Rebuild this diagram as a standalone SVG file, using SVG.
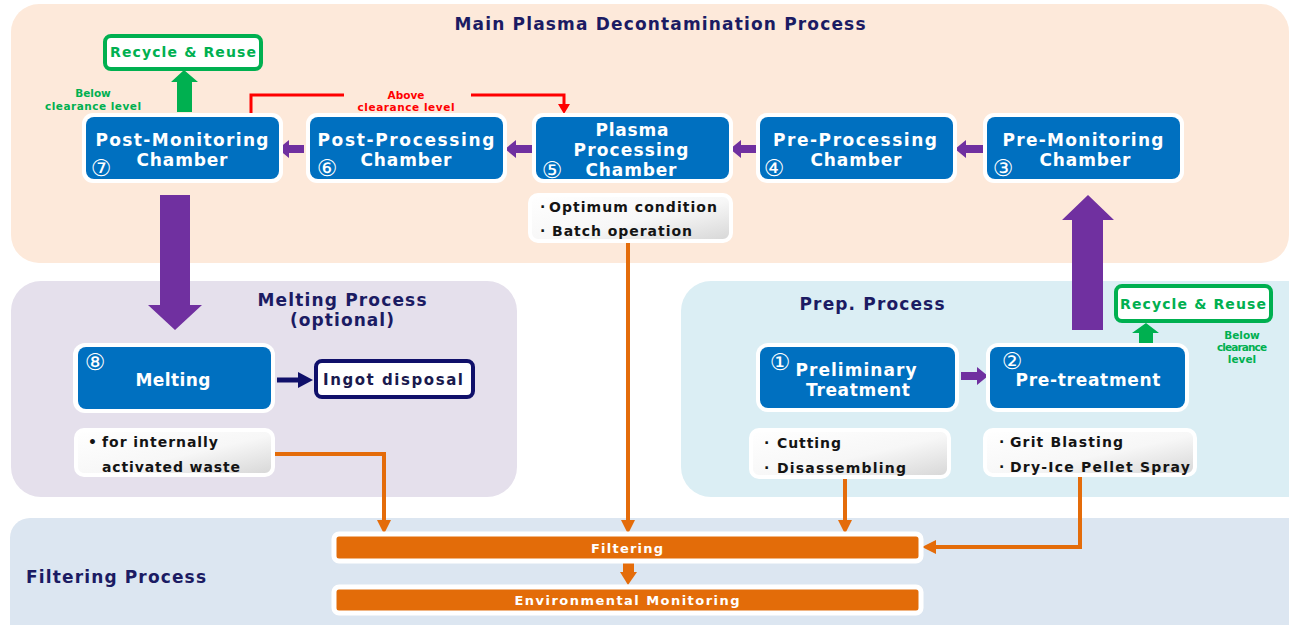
<svg xmlns="http://www.w3.org/2000/svg" width="1289" height="625" viewBox="0 0 1289 625">
<defs>
<linearGradient id="noteG" x1="0" y1="0" x2="1" y2="1">
<stop offset="0" stop-color="#ffffff"/>
<stop offset="0.55" stop-color="#f7f7f7"/>
<stop offset="1" stop-color="#d6d6d6"/>
</linearGradient>
</defs>
<style>
text{font-family:"DejaVu Sans","Liberation Sans",Arial,sans-serif;font-weight:bold}
.ch{fill:#0070c0}
.chb{fill:#ffffff}
.ct{fill:#ffffff;font-size:17px;text-anchor:middle}
.num{fill:#ffffff;font-family:"DejaVu Sans",sans-serif;font-weight:normal;font-size:23px;text-anchor:middle}
.ttl{fill:#1b1b63;font-size:17px}
.note{fill:#141414;font-size:14px}
.noteb{fill:url(#noteG);stroke:#ffffff;stroke-width:4}
.grn{fill:#00b050;font-size:10.5px;text-anchor:middle}
.red{fill:#ff0000;font-size:10.5px;text-anchor:middle}
.pur{fill:#7030a0}
.org{stroke:#e46c0a;stroke-width:4;fill:none}
.orgf{fill:#e46c0a}
.bar{fill:#e36c09;stroke:#ffffff;stroke-width:5}
.bt{fill:#ffffff;font-size:13px;text-anchor:middle}
.rr{fill:#ffffff;stroke:#00b050;stroke-width:4}
.rrt{fill:#00b050;font-size:14px;text-anchor:middle}
</style>

<g id="panels">
<rect x="11" y="4" width="1278" height="259" rx="28" fill="#fde9da"/>
<rect x="11" y="281" width="506" height="216" rx="30" fill="#e5e0ec"/>
<rect x="681" y="281" width="640" height="216" rx="30" fill="#dbeef4"/>
<rect x="10" y="518" width="1310" height="140" rx="20" fill="#dce6f1"/>
</g>

<g id="labels">
<text class="ttl" x="660" y="30" text-anchor="middle" textLength="411" lengthAdjust="spacing">Main Plasma Decontamination Process</text>
<text class="ttl" x="342" y="306" text-anchor="middle" textLength="169" lengthAdjust="spacing">Melting Process</text>
<text class="ttl" x="342" y="326" text-anchor="middle" textLength="104" lengthAdjust="spacing">(optional)</text>
<text class="ttl" x="872" y="310" text-anchor="middle" textLength="145" lengthAdjust="spacing">Prep. Process</text>
<text class="ttl" x="26" y="583" textLength="180" lengthAdjust="spacing">Filtering Process</text>
<text class="grn" x="93" y="97">Below</text>
<text class="grn" x="93" y="110" textLength="96" lengthAdjust="spacing">clearance level</text>
<text class="red" x="406" y="99">Above</text>
<text class="red" x="406" y="111" textLength="97" lengthAdjust="spacing">clearance level</text>
<text class="grn" x="1242" y="339">Below</text>
<text class="grn" x="1242" y="351" textLength="50" lengthAdjust="spacing">clearance</text>
<text class="grn" x="1242" y="363">level</text>
</g>

<g id="connectors">
<polygon class="pur" points="278,149 289,140 289,145 304,145 304,153 289,153 289,158"/>
<polygon class="pur" points="505,149 516,140 516,145 532,145 532,153 516,153 516,158"/>
<polygon class="pur" points="730,149 741,140 741,145 757,145 757,153 741,153 741,158"/>
<polygon class="pur" points="955,149 966,140 966,145 983,145 983,153 966,153 966,158"/>
<polygon class="pur" points="988,376 977,367 977,372 961,372 961,380 977,380 977,385"/>
<polygon class="pur" points="160,195 190,195 190,305 202,305 175,330 148,305 160,305"/>
<polygon class="pur" points="1072,330 1072,220 1062,220 1088,195 1114,220 1103,220 1103,330"/>
<polygon fill="#00b050" points="177,112 177,82 171,82 184,70 198,82 192,82 192,112"/>
<polygon fill="#00b050" points="1139,343 1139,333 1132,333 1146,323 1159,333 1153,333 1153,343"/>
<polyline points="251,117 251,95 344,95" fill="none" stroke="#ff0000" stroke-width="3"/>
<polyline points="471,95 564,95 564,106" fill="none" stroke="#ff0000" stroke-width="3"/>
<polygon points="558,104 570,104 564,114" fill="#ff0000"/>
<line x1="277" y1="380" x2="300" y2="380" stroke="#10106a" stroke-width="5"/>
<polygon points="298,372 313,380 298,388" fill="#10106a"/>
<polyline class="org" points="274,454 384,454 384,522"/>
<polygon class="orgf" points="377,520 391,520 384,534"/>
<polyline class="org" points="628,243 628,522"/>
<polygon class="orgf" points="621,520 635,520 628,534"/>
<polyline class="org" points="845,479 845,522"/>
<polygon class="orgf" points="838,520 852,520 845,534"/>
<polyline class="org" points="1080,476 1080,547 934,547"/>
<polygon class="orgf" points="936,540 936,554 922,547"/>
<rect class="orgf" x="623" y="561" width="11" height="13"/>
<polygon class="orgf" points="620,572 637,572 628,585"/>
</g>

<g id="recycle-top">
<rect class="rr" x="105" y="36" width="156" height="33" rx="6"/>
<text class="rrt" x="183" y="57" textLength="146" lengthAdjust="spacing">Recycle &amp; Reuse</text>
</g>
<g id="recycle-right">
<rect class="rr" x="1116" y="286" width="155" height="35" rx="6"/>
<text class="rrt" x="1193" y="309" textLength="146" lengthAdjust="spacing">Recycle &amp; Reuse</text>
</g>

<g id="n7">
<rect class="chb" x="82" y="113" width="201" height="70" rx="11"/>
<rect class="ch" x="86" y="117" width="193" height="62" rx="8"/>
<text class="ct" x="182" y="146" textLength="173" lengthAdjust="spacing">Post-Monitoring</text>
<text class="ct" x="182" y="166" textLength="91" lengthAdjust="spacing">Chamber</text>
<text class="num" x="101" y="176">⑦</text>
</g>
<g id="n6">
<rect class="chb" x="306" y="113" width="201" height="70" rx="11"/>
<rect class="ch" x="310" y="117" width="193" height="62" rx="8"/>
<text class="ct" x="406" y="146" textLength="177" lengthAdjust="spacing">Post-Processing</text>
<text class="ct" x="406" y="166" textLength="91" lengthAdjust="spacing">Chamber</text>
<text class="num" x="327" y="176">⑥</text>
</g>
<g id="n5">
<rect class="chb" x="532" y="113" width="201" height="70" rx="11"/>
<rect class="ch" x="536" y="117" width="193" height="62" rx="8"/>
<text class="ct" x="632" y="136" textLength="73" lengthAdjust="spacing">Plasma</text>
<text class="ct" x="631" y="156" textLength="115" lengthAdjust="spacing">Processing</text>
<text class="ct" x="631" y="176" textLength="91" lengthAdjust="spacing">Chamber</text>
<text class="num" x="552" y="178">⑤</text>
</g>
<g id="n4">
<rect class="chb" x="756" y="113" width="201" height="70" rx="11"/>
<rect class="ch" x="760" y="117" width="193" height="62" rx="8"/>
<text class="ct" x="855" y="146" textLength="164" lengthAdjust="spacing">Pre-Processing</text>
<text class="ct" x="856" y="166" textLength="91" lengthAdjust="spacing">Chamber</text>
<text class="num" x="774" y="176">④</text>
</g>
<g id="n3">
<rect class="chb" x="983" y="113" width="201" height="70" rx="11"/>
<rect class="ch" x="987" y="117" width="193" height="62" rx="8"/>
<text class="ct" x="1083" y="146" textLength="161" lengthAdjust="spacing">Pre-Monitoring</text>
<text class="ct" x="1085" y="166" textLength="91" lengthAdjust="spacing">Chamber</text>
<text class="num" x="1003" y="176">③</text>
</g>

<g id="note5">
<rect class="noteb" x="530" y="195" width="201" height="46" rx="8"/>
<text class="note" x="540" y="212">·</text>
<text class="note" x="549" y="212" textLength="168" lengthAdjust="spacing">Optimum condition</text>
<text class="note" x="540" y="236">·</text>
<text class="note" x="552" y="236" textLength="140" lengthAdjust="spacing">Batch operation</text>
</g>

<g id="n8">
<rect class="chb" x="73" y="343" width="202" height="70" rx="12"/>
<rect class="ch" x="78" y="347" width="193" height="62" rx="8"/>
<text class="ct" x="173" y="386" textLength="75" lengthAdjust="spacing">Melting</text>
<text class="num" x="95" y="370">⑧</text>
</g>
<g id="ingot">
<rect x="316" y="361" width="157" height="36" rx="6" fill="#ffffff" stroke="#10106a" stroke-width="4"/>
<text x="393" y="385" fill="#1a1a4e" font-size="15" text-anchor="middle" textLength="140" lengthAdjust="spacing">Ingot disposal</text>
</g>
<g id="note8">
<rect class="noteb" x="76" y="430" width="197" height="45" rx="8"/>
<text class="note" x="88" y="447">•</text>
<text class="note" x="102" y="447" textLength="116" lengthAdjust="spacing">for internally</text>
<text class="note" x="102" y="472" textLength="138" lengthAdjust="spacing">activated waste</text>
</g>

<g id="n1">
<rect class="chb" x="756" y="343" width="203" height="69" rx="12"/>
<rect class="ch" x="760" y="347" width="195" height="61" rx="8"/>
<text class="ct" x="856" y="376" textLength="121" lengthAdjust="spacing">Preliminary</text>
<text class="ct" x="858" y="396" textLength="104" lengthAdjust="spacing">Treatment</text>
<text class="num" x="780" y="370">①</text>
</g>
<g id="n2">
<rect class="chb" x="986" y="343" width="203" height="69" rx="12"/>
<rect class="ch" x="990" y="347" width="195" height="61" rx="8"/>
<text class="ct" x="1088" y="386" textLength="145" lengthAdjust="spacing">Pre-treatment</text>
<text class="num" x="1012" y="369">②</text>
</g>
<g id="note1">
<rect class="noteb" x="751" y="430" width="198" height="47" rx="8"/>
<text class="note" x="764" y="448">·</text>
<text class="note" x="777" y="448" textLength="64" lengthAdjust="spacing">Cutting</text>
<text class="note" x="764" y="473">·</text>
<text class="note" x="777" y="473" textLength="129" lengthAdjust="spacing">Disassembling</text>
</g>
<g id="note2">
<rect class="noteb" x="985" y="430" width="210" height="45" rx="8"/>
<text class="note" x="999" y="447">·</text>
<text class="note" x="1010" y="447" textLength="113" lengthAdjust="spacing">Grit Blasting</text>
<text class="note" x="999" y="472">·</text>
<text class="note" x="1010" y="472" textLength="180" lengthAdjust="spacing">Dry-Ice Pellet Spray</text>
</g>

<g id="filtering">
<rect class="bar" x="334" y="534" width="587" height="27" rx="5"/>
<text class="bt" x="627" y="553" textLength="72" lengthAdjust="spacing">Filtering</text>
</g>
<g id="envmon">
<rect class="bar" x="334" y="587" width="587" height="26" rx="5"/>
<text class="bt" x="627" y="605" textLength="225" lengthAdjust="spacing">Environmental Monitoring</text>
</g>
</svg>
